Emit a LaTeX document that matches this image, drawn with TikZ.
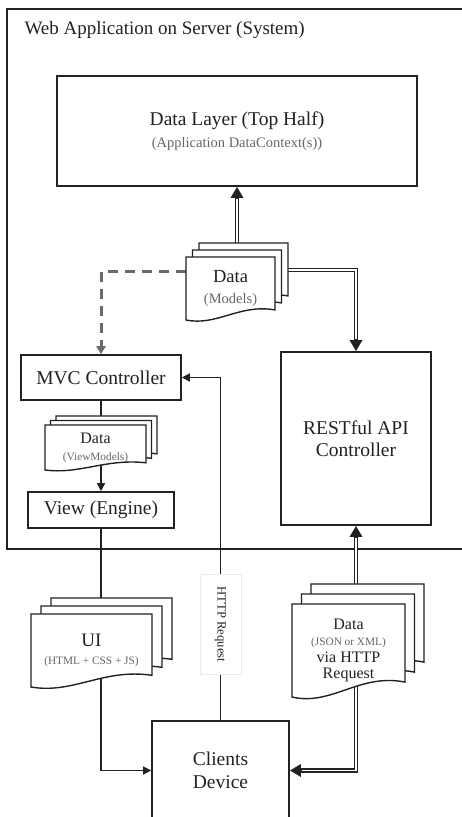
\documentclass[tikz,border=0pt]{standalone}
\usepackage{fontspec}
\setmainfont{Liberation Serif}
\usetikzlibrary{arrows.meta,calc,backgrounds}
\definecolor{InkGray}{HTML}{222222}
\definecolor{NoteGray}{HTML}{666666}
\definecolor{DashGray}{HTML}{6A6A6A}

% font sizes (pt, picture is drawn 1pt per unit)
\newcommand\fsMain{\fontsize{19.5}{22.5}\selectfont}
\newcommand\fsSub{\fontsize{14.5}{16}\selectfont}
\newcommand\fsNote{\fontsize{11.3}{13}\selectfont}

% stack of three documents: name, x, y (top left of front sheet), width, height, dx, dy, font, text
\newcommand\docstack[9]{%
  \foreach \k in {2,1,0}{%
    \draw[sheet, shift={(\k*#6,-\k*#7)}]
      (#2,#3) -- (#2+#4,#3) -- (#2+#4,#3+0.84*#5)
      .. controls (#2+0.6*#4,#3+0.74*#5) and (#2+0.35*#4,#3+1.1*#5) .. (#2,#3+#5) -- cycle;
  }
  \node[doctext, font=#8, minimum width=#4pt, minimum height=#5pt] (#1) at (#2+#4/2,#3+#5/2) {#9};
}

\begin{document}
\begin{tikzpicture}[x=1pt, y=-1pt, line join=miter,
  box/.style={draw=InkGray, line width=1.6pt, fill=white, align=center, text=InkGray, font=\fsMain},
  sheet/.style={draw=InkGray, line width=1.4pt, fill=white},
  doctext/.style={align=center, text=InkGray, inner sep=0pt},
  frame/.style={draw=InkGray, line width=1.6pt},
  ln/.style={InkGray, line width=1.3pt},
  ar/.style={ln, -{Triangle[length=8pt,width=8pt]}},
  dbl/.style={InkGray, line width=4.4pt, -{Triangle[length=11pt,width=12pt]},
              postaction={draw=white, line width=1.5pt, -, shorten >=12pt}},
  dsh/.style={DashGray, line width=3pt, dash pattern=on 10pt off 7pt, -{Triangle[length=8pt,width=9pt]}},
  req/.style={rotate=-90, fill=white, draw=black!8, line width=0.6pt, text=InkGray,
              font=\fontsize{12.7}{14}\selectfont, minimum width=100pt, minimum height=41pt}]
\useasboundingbox (0,0) rectangle (462,817);

\node[anchor=west, text=InkGray, font=\fontsize{19}{22}\selectfont] (sysname) at (21,30) {Web Application on Server (System)};

\node[box, minimum width=360pt, minimum height=110pt] (layer) at (237,131)
  {Data Layer (Top Half)\\{\fsSub\color{NoteGray}(Application DataContext(s))}};
\node[box, minimum width=150pt, minimum height=173pt] (rest) at (356,438.5) {RESTful API\\Controller};
\node[box, minimum width=160pt, minimum height=45pt] (mvc) at (101,377.5) {MVC Controller};
\node[box, minimum width=146pt, minimum height=36pt] (view) at (101,510) {View (Engine)};
\node[box, minimum width=137pt, minimum height=99pt] (clients) at (220.5,770.5) {Clients\\Device};

\docstack{models}{186}{257}{89}{63}{6.5}{7}{\fontsize{18.5}{21.5}\selectfont}
  {Data\\{\fsSub\color{NoteGray}(Models)}}
\docstack{viewdata}{45}{425}{101}{45}{5.5}{4.5}{\fontsize{16}{17}\selectfont}
  {Data\\{\fsNote\color{NoteGray}(ViewModels)}}
\docstack{uidoc}{31}{614}{121}{73}{10}{8}{\fontsize{19}{18}\selectfont}
  {UI\\{\fsNote\color{NoteGray}(HTML + CSS + JS)}}
\docstack{payload}{292}{604}{113}{93}{9.5}{10}{\fontsize{16}{16.5}\selectfont}
  {Data\\{\fsNote\color{NoteGray}(JSON or XML)}\\via HTTP\\Request}

\begin{scope}[on background layer]
  \draw[frame] (475,9) -- (7,9) -- (7,549) -- (475,549);
  \draw[dbl] (layer.south |- models.center) -- (layer.south);
  \draw[dbl] ($(models.north east)+(0,13)$) -| (rest.north);
  \draw[dsh] ($(models.north west)+(0,15)$) -| (mvc.north);
  \draw[ln] (mvc.south) -- (mvc.south |- viewdata.center);
  \draw[ar] (view.north |- viewdata.center) -- (view.north);
  \draw[ar] (view.south) |- (clients.west);
  \draw[ar] (clients.north) |- node[req, pos=0.14] (httpreq) {HTTP Request} (mvc.east);
  \draw[dbl] (rest.south |- payload.center) -- (rest.south);
  \draw[dbl] (rest.south |- payload.center) |- (clients.east);
\end{scope}
\end{tikzpicture}
\end{document}
